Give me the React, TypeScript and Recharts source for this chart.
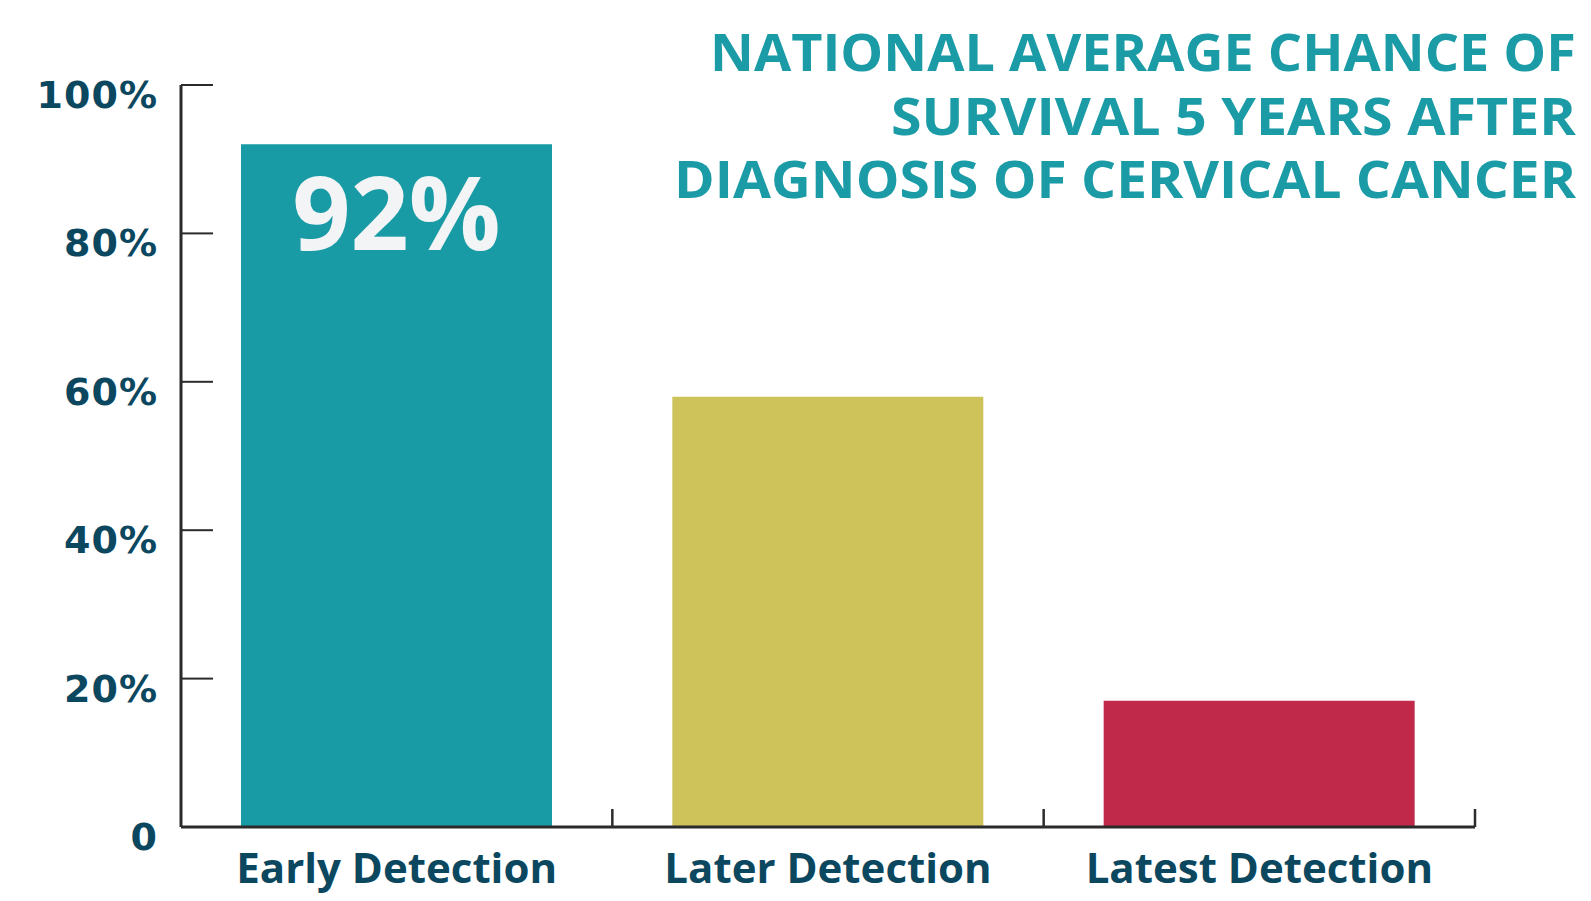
import React from 'react';
import { BarChart, Bar, XAxis, YAxis, Cell, LabelList } from 'recharts';

const categories = ['Early Detection', 'Later Detection', 'Latest Detection'];
const survival = [92, 58, 17];
const barLabels = ['92%', '', ''];
const barColors = ['#199ba5', '#cec35b', '#c0294a'];
const yTicks = [0, 20, 40, 60, 80, 100];
const yTickLabels = ['0', '20%', '40%', '60%', '80%', '100%'];
const titleLines = ['NATIONAL AVERAGE CHANCE OF', 'SURVIVAL 5 YEARS AFTER', 'DIAGNOSIS OF CERVICAL CANCER'];

const data = categories.map((c, i) => ({ name: c, value: survival[i], label: barLabels[i] }));

const W = 1591;
const H = 901;
const X_AXIS_H = 74;
const M = { top: 85, right: 116, bottom: 0, left: 0 };
const Y_AXIS_W = 181;
const PLOT_W = W - M.left - M.right - Y_AXIS_W;
const BAND = PLOT_W / categories.length;
const AXIS_COLOR = '#2b2b2b';
const LABEL_COLOR = '#0c4760';
const TITLE_COLOR = '#1a9ba6';

const titleWidths = [866, 685, 902];
const titleBaselines = [71, 135, 198];

const YTick = (props: any) => {
  const { x, y, payload } = props;
  const axisX = x + 23;
  const idx = yTicks.indexOf(payload.value);
  return (
    <g>
      {payload.value !== 0 && (
        <line x1={axisX} x2={axisX + 32} y1={y} y2={y} stroke={AXIS_COLOR} strokeWidth={2} />
      )}
      <text
        x={x}
        y={y + 23}
        textAnchor="end"
        fill={LABEL_COLOR}
        fontSize={38}
        fontWeight={700}
        letterSpacing={1}
        fontFamily="'DejaVu Sans', sans-serif"
      >
        {yTickLabels[idx]}
      </text>
    </g>
  );
};

const XTick = (props: any) => {
  const { x, y, payload } = props;
  const right = x + BAND / 2;
  return (
    <g>
      <line x1={right} x2={right} y1={y} y2={y - 18} stroke={AXIS_COLOR} strokeWidth={2.5} />
      <text
        x={x}
        y={y + 56}
        textAnchor="middle"
        fill={LABEL_COLOR}
        fontSize={42}
        fontWeight={700}
        fontFamily="'Open Sans', sans-serif"
      >
        {payload.value}
      </text>
    </g>
  );
};

const BarValueLabel = (props: any) => {
  const { x, y, width, value } = props;
  if (!value) return null;
  return (
    <text
      x={x + width / 2}
      y={y + 106}
      textAnchor="middle"
      fill="#f2f4f6"
      fontSize={102}
      fontWeight={700}
      fontFamily="'Open Sans', sans-serif"
    >
      {value}
    </text>
  );
};

export default function App() {
  return (
    <div style={{ position: 'absolute', left: 0, top: 0, width: W, height: H, background: '#ffffff' }}>
      <BarChart width={W} height={H} data={data} margin={M}>
        <XAxis
          dataKey="name"
          axisLine={{ stroke: AXIS_COLOR, strokeWidth: 3 }}
          tickLine={false}
          tickSize={0}
          tickMargin={0}
          tick={<XTick />}
          interval={0}
          height={X_AXIS_H}
        />
        <YAxis
          type="number"
          domain={[0, 100]}
          ticks={yTicks}
          width={Y_AXIS_W}
          axisLine={{ stroke: AXIS_COLOR, strokeWidth: 3 }}
          tickLine={false}
          tickSize={0}
          tickMargin={23}
          tick={<YTick />}
          interval={0}
        />
        <Bar dataKey="value" barSize={311} isAnimationActive={false}>
          {data.map((d, i) => (
            <Cell key={d.name} fill={barColors[i]} />
          ))}
          <LabelList dataKey="label" content={<BarValueLabel />} />
        </Bar>
      </BarChart>
      <svg width={W} height={H} style={{ position: 'absolute', left: 0, top: 0, pointerEvents: 'none' }}>
        {titleLines.map((line, i) => (
          <text
            key={line}
            x={1576}
            y={titleBaselines[i]}
            textAnchor="end"
            fill={TITLE_COLOR}
            fontSize={52}
            fontWeight={700}
            fontFamily="'Open Sans', sans-serif"
            textLength={titleWidths[i]}
            lengthAdjust="spacingAndGlyphs"
          >
            {line}
          </text>
        ))}
      </svg>
    </div>
  );
}
